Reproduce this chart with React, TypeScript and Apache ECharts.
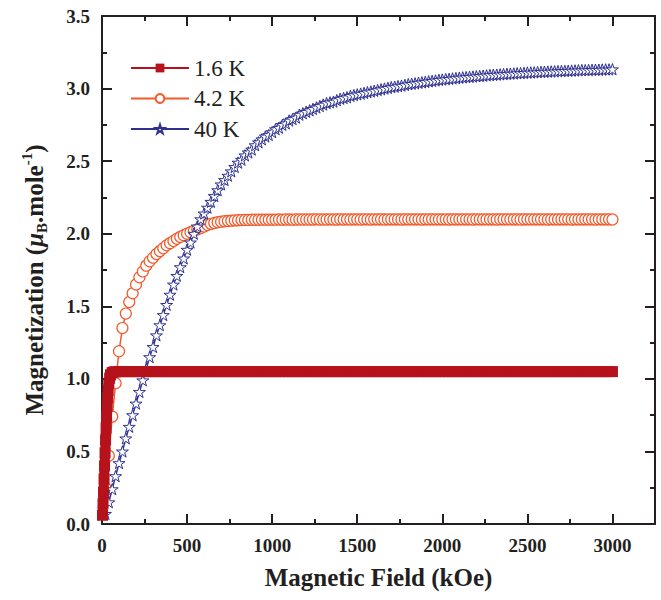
import React, { useEffect, useRef } from "react";
import * as echarts from "echarts";

const FONT = "'Liberation Serif', 'Times New Roman', serif";
const INK = "#231F20";
const RED = "#B5121B";
const ORANGE = "#F15A2B";
const BLUE = "#2E3192";

const seriesNames = ["1.6 K", "4.2 K", "40 K"];
const xTickValues = [0, 500, 1000, 1500, 2000, 2500, 3000];

// Magnetic field (kOe), shared by the 4.2 K and 40 K sweeps
const fields = [
  20, 40, 60, 80, 100, 120, 140, 160, 180, 200,
  220, 240, 260, 280, 300, 320, 340, 360, 380, 400,
  420, 440, 460, 480, 500, 520, 540, 560, 580, 600,
  620, 640, 660, 680, 700, 720, 740, 760, 780, 800,
  820, 840, 860, 880, 900, 920, 940, 960, 980, 1000,
  1020, 1040, 1060, 1080, 1100, 1120, 1140, 1160, 1180, 1200,
  1220, 1240, 1260, 1280, 1300, 1320, 1340, 1360, 1380, 1400,
  1420, 1440, 1460, 1480, 1500, 1520, 1540, 1560, 1580, 1600,
  1620, 1640, 1660, 1680, 1700, 1720, 1740, 1760, 1780, 1800,
  1820, 1840, 1860, 1880, 1900, 1920, 1940, 1960, 1980, 2000,
  2020, 2040, 2060, 2080, 2100, 2120, 2140, 2160, 2180, 2200,
  2220, 2240, 2260, 2280, 2300, 2320, 2340, 2360, 2380, 2400,
  2420, 2440, 2460, 2480, 2500, 2520, 2540, 2560, 2580, 2600,
  2620, 2640, 2660, 2680, 2700, 2720, 2740, 2760, 2780, 2800,
  2820, 2840, 2860, 2880, 2900, 2920, 2940, 2960, 2980, 3000,
];

// 4.2 K magnetization
const m42 = [
  0.25, 0.47, 0.74, 0.97, 1.19, 1.35, 1.45, 1.53, 1.59, 1.65,
  1.70, 1.74, 1.78, 1.81, 1.835, 1.86, 1.88, 1.90, 1.92, 1.935,
  1.95, 1.965, 1.978, 1.99, 2.0, 2.01, 2.02, 2.03, 2.04, 2.05,
  2.06, 2.068, 2.074, 2.079, 2.083, 2.086, 2.088, 2.09, 2.092, 2.093,
  2.094, 2.095, 2.095, 2.096, 2.096, 2.096, 2.097, 2.097, 2.097, 2.097,
  2.097, 2.098, 2.097, 2.098, 2.098, 2.097, 2.098, 2.098, 2.098, 2.098,
  2.098, 2.098, 2.099, 2.098, 2.098, 2.098, 2.099, 2.098, 2.098, 2.099,
  2.098, 2.099, 2.098, 2.099, 2.099, 2.098, 2.099, 2.099, 2.098, 2.099,
  2.099, 2.099, 2.098, 2.099, 2.099, 2.099, 2.099, 2.098, 2.099, 2.099,
  2.099, 2.099, 2.099, 2.098, 2.099, 2.099, 2.099, 2.099, 2.099, 2.099,
  2.099, 2.098, 2.099, 2.099, 2.099, 2.099, 2.099, 2.099, 2.098, 2.099,
  2.099, 2.099, 2.099, 2.099, 2.099, 2.098, 2.099, 2.099, 2.099, 2.099,
  2.099, 2.099, 2.098, 2.099, 2.099, 2.099, 2.099, 2.099, 2.099, 2.099,
  2.098, 2.099, 2.099, 2.099, 2.099, 2.099, 2.099, 2.098, 2.099, 2.099,
  2.099, 2.099, 2.099, 2.099, 2.098, 2.099, 2.099, 2.099, 2.099, 2.098,
];

// 40 K magnetization
const m40 = [
  0.07, 0.15, 0.24, 0.33, 0.42, 0.50, 0.59, 0.67, 0.75, 0.83,
  0.91, 0.99, 1.07, 1.15, 1.22, 1.30, 1.37, 1.44, 1.51, 1.58,
  1.65, 1.71, 1.77, 1.83, 1.89, 1.94, 2.00, 2.05, 2.10, 2.14,
  2.18, 2.22, 2.26, 2.30, 2.34, 2.37, 2.40, 2.43, 2.46, 2.49,
  2.51, 2.54, 2.56, 2.58, 2.61, 2.63, 2.65, 2.67, 2.68, 2.70,
  2.72, 2.73, 2.75, 2.76, 2.78, 2.79, 2.80, 2.82, 2.83, 2.84,
  2.85, 2.86, 2.87, 2.88, 2.89, 2.90, 2.905, 2.91, 2.92, 2.93,
  2.935, 2.94, 2.95, 2.955, 2.96, 2.965, 2.97, 2.975, 2.98, 2.985,
  2.99, 2.995, 3.0, 3.005, 3.01, 3.013, 3.017, 3.02, 3.025, 3.03,
  3.033, 3.036, 3.04, 3.043, 3.046, 3.05, 3.053, 3.056, 3.06, 3.062,
  3.065, 3.067, 3.07, 3.072, 3.075, 3.077, 3.079, 3.081, 3.083, 3.085,
  3.087, 3.089, 3.091, 3.093, 3.095, 3.096, 3.098, 3.10, 3.101, 3.103,
  3.104, 3.106, 3.107, 3.108, 3.11, 3.111, 3.112, 3.113, 3.115, 3.116,
  3.117, 3.118, 3.119, 3.12, 3.121, 3.122, 3.123, 3.124, 3.125, 3.126,
  3.127, 3.127, 3.128, 3.129, 3.13, 3.13, 3.131, 3.132, 3.132, 3.133,
];

// 1.6 K: finer low-field steps, then the shared field grid from 80 kOe
const fields16Low = [3, 6, 9, 12, 15, 18, 21, 24, 27, 30, 33, 36, 40, 45, 50, 60, 70];
const m16Low = [0.06, 0.14, 0.22, 0.31, 0.4, 0.49, 0.58, 0.66, 0.74, 0.81, 0.87, 0.92, 0.97, 1.005, 1.028, 1.043, 1.048];
const m16 = [
  1.049, 1.05, 1.05, 1.05, 1.05, 1.05, 1.05,
  1.05, 1.05, 1.05, 1.05, 1.05, 1.05, 1.05, 1.05, 1.05, 1.05,
  1.05, 1.05, 1.05, 1.05, 1.05, 1.05, 1.05, 1.05, 1.05, 1.05,
  1.05, 1.05, 1.05, 1.05, 1.05, 1.05, 1.05, 1.05, 1.05, 1.05,
  1.05, 1.05, 1.05, 1.05, 1.05, 1.05, 1.05, 1.05, 1.05, 1.05,
  1.05, 1.05, 1.05, 1.05, 1.05, 1.05, 1.05, 1.05, 1.05, 1.05,
  1.05, 1.05, 1.05, 1.05, 1.05, 1.05, 1.05, 1.05, 1.05, 1.05,
  1.05, 1.05, 1.05, 1.05, 1.05, 1.05, 1.05, 1.05, 1.05, 1.05,
  1.05, 1.05, 1.05, 1.05, 1.05, 1.05, 1.05, 1.05, 1.05, 1.05,
  1.05, 1.05, 1.05, 1.05, 1.05, 1.05, 1.05, 1.05, 1.05, 1.05,
  1.05, 1.05, 1.05, 1.05, 1.05, 1.05, 1.05, 1.05, 1.05, 1.05,
  1.05, 1.05, 1.05, 1.05, 1.05, 1.05, 1.05, 1.05, 1.05, 1.05,
  1.05, 1.05, 1.05, 1.05, 1.05, 1.05, 1.05, 1.05, 1.05, 1.05,
  1.05, 1.05, 1.05, 1.05, 1.05, 1.05, 1.05, 1.05, 1.05, 1.05,
  1.05, 1.05, 1.05, 1.05, 1.05, 1.05, 1.05, 1.05, 1.05, 1.05,
];

const STAR =
  "path://M50,0 L61.8,36.2 L100,36.2 L69.1,58.8 L80.9,95.1 L50,72.6 L19.1,95.1 L30.9,58.8 L0,36.2 L38.2,36.2 Z";

function pairs(xs: number[], ys: number[]) {
  return ys.map((y, i) => [xs[i], y]);
}

export default function App() {
  const ref = useRef<HTMLDivElement>(null);

  useEffect(() => {
    if (!ref.current) return;
    const chart = echarts.init(ref.current, undefined, { renderer: "svg" });

    const axisLine = { show: true, onZero: false, lineStyle: { color: INK, width: 2 } };
    const tick = { show: true, inside: true, length: 10, lineStyle: { color: INK, width: 2 } };
    const minor = { show: true, splitNumber: 2, length: 5, lineStyle: { color: INK, width: 2 } };
    const labelStyle = { fontFamily: FONT, fontWeight: "bold" as const, fontSize: 19, color: INK };

    const data16 = pairs(fields16Low, m16Low).concat(pairs(fields.slice(3), m16));

    chart.setOption({
      animation: false,
      grid: { left: 102, right: 6, top: 16, bottom: 76, containLabel: false },
      legend: {
        data: seriesNames,
        orient: "vertical",
        left: 130,
        top: 56,
        padding: 0,
        itemWidth: 58,
        itemHeight: 11,
        itemGap: 6.5,
        lineStyle: { width: 2 },
        textStyle: { fontFamily: FONT, fontSize: 23, color: INK, lineHeight: 24 },
        selectedMode: false,
      },
      xAxis: [
        {
          type: "value",
          min: 0,
          max: 3250,
          interval: 500,
          axisLine,
          axisTick: tick,
          minorTick: minor,
          splitLine: { show: false },
          axisLabel: {
            ...labelStyle,
            margin: 12,
            showMaxLabel: false,
            formatter: (v: number) => (xTickValues.indexOf(v) >= 0 ? String(v) : ""),
          },
          name: "Magnetic Field (kOe)",
          nameLocation: "middle",
          nameGap: 39,
          nameTextStyle: { fontFamily: FONT, fontWeight: "bold", fontSize: 25, color: INK, lineHeight: 28 },
        },
        {
          type: "value",
          position: "top",
          min: 0,
          max: 3250,
          interval: 500,
          axisLine,
          axisTick: tick,
          minorTick: minor,
          splitLine: { show: false },
          axisLabel: { show: false },
        },
      ],
      yAxis: [
        {
          type: "value",
          min: 0,
          max: 3.5,
          interval: 0.5,
          axisLine,
          axisTick: tick,
          minorTick: minor,
          splitLine: { show: false },
          axisLabel: { ...labelStyle, margin: 12, formatter: (v: number) => v.toFixed(1) },
          name: "Magnetization ({mu|μ}{sub|B}.mole{sup|-1})",
          nameLocation: "middle",
          nameGap: 53,
          nameTextStyle: {
            fontFamily: FONT,
            fontWeight: "bold",
            fontSize: 25,
            color: INK,
            lineHeight: 30,
            padding: [0, 20, 0, 0],
            rich: {
              mu: { fontFamily: FONT, fontWeight: "bold", fontStyle: "italic", fontSize: 25, color: INK, lineHeight: 30 },
              sub: { fontFamily: FONT, fontWeight: "bold", fontSize: 15, color: INK, lineHeight: 15, verticalAlign: "bottom" },
              sup: { fontFamily: FONT, fontWeight: "bold", fontSize: 15, color: INK, lineHeight: 15, verticalAlign: "top" },
            },
          },
        },
        {
          type: "value",
          position: "right",
          min: 0,
          max: 3.5,
          interval: 0.5,
          axisLine,
          axisTick: tick,
          minorTick: minor,
          splitLine: { show: false },
          axisLabel: { show: false },
        },
      ],
      series: [
        {
          name: seriesNames[1],
          type: "line",
          z: 2,
          data: pairs(fields, m42),
          symbol: "circle",
          symbolSize: 11,
          showAllSymbol: true,
          silent: true,
          itemStyle: { color: "#ffffff", borderColor: ORANGE, borderWidth: 1.2 },
          lineStyle: { color: ORANGE, width: 1.5 },
        },
        {
          name: seriesNames[2],
          type: "line",
          z: 3,
          data: pairs(fields, m40),
          symbol: STAR,
          symbolSize: 12,
          symbolKeepAspect: true,
          showAllSymbol: true,
          silent: true,
          itemStyle: { color: "#ffffff", borderColor: BLUE, borderWidth: 1 },
          lineStyle: { color: BLUE, width: 1.5 },
        },
        {
          name: seriesNames[0],
          type: "line",
          z: 4,
          data: data16,
          symbol: "rect",
          symbolSize: 11,
          showAllSymbol: true,
          silent: true,
          itemStyle: { color: RED },
          lineStyle: { color: RED, width: 10, join: "round" },
        },
      ],
    });

    return () => chart.dispose();
  }, []);

  return (
    <div
      ref={ref}
      style={{ position: "fixed", left: 0, top: 0, width: 661, height: 600, background: "#ffffff" }}
    />
  );
}
